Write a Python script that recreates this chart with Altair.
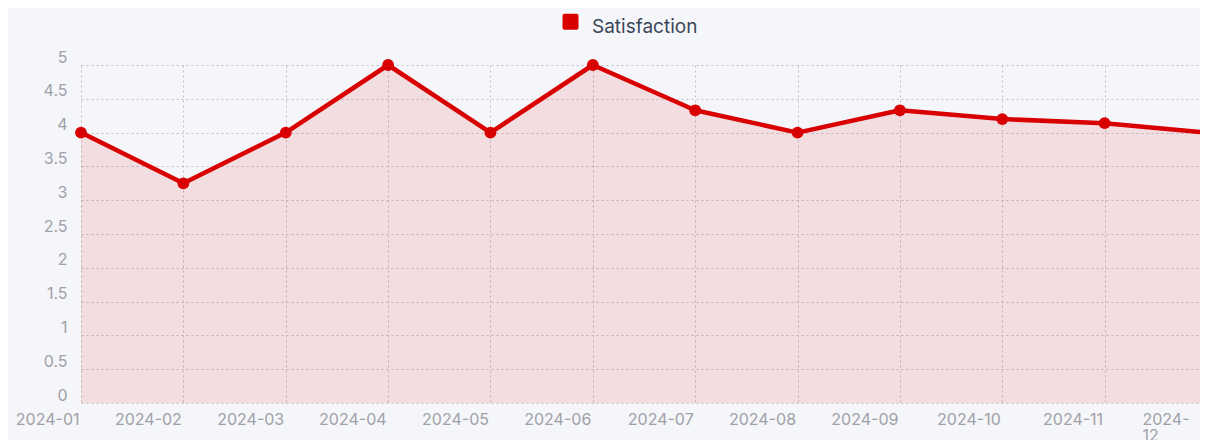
import altair as alt
import pandas as pd

# ---- data ----
months = ["2024-01", "2024-02", "2024-03", "2024-04", "2024-05", "2024-06",
          "2024-07", "2024-08", "2024-09", "2024-10", "2024-11", "2024-12"]
scores = [4.0, 3.25, 4.0, 5.0, 4.0, 5.0, 4.33, 4.0, 4.33, 4.2, 4.14, 4.0]
series_name = "Satisfaction"
y_tick_values = [0, 0.5, 1, 1.5, 2, 2.5, 3, 3.5, 4, 4.5, 5]
chart_title = "Satisfaction usagers (notes sur 5)"

df = pd.DataFrame({"month": months, "score": scores,
                   "series": [series_name] * len(months)})

RED = "#d80000"
GRID = "#c2c0c6"
LABEL = "#a0a0a8"
PANEL = "#f5f6fa"
FONT = "Inter"
LAST = "datum.value == '2024-12'"

x_enc = alt.X(
    "month:O",
    scale=alt.Scale(type="point", padding=0, range=[0, 1126]),
    axis=alt.Axis(
        title=None, domain=False, ticks=False, grid=True,
        gridDash=[2, 3], gridColor=GRID, gridWidth=1,
        labelAngle=0, labelBaseline="top", labelPadding=8,
        labelFont=FONT, labelFontSize=16, labelColor=LABEL,
        labelLineHeight=16, labelOverlap=False, labelBound=False,
        labelExpr="datum.label == '2024-12' ? ['2024-', '12'] : datum.label",
        labelAlign={"condition": {"test": LAST, "value": "left"}, "value": "right"},
        labelOffset={"condition": {"test": LAST, "value": -65}, "value": -2},
    ),
)

y_enc = alt.Y(
    "score:Q",
    scale=alt.Scale(domain=[0, 5], nice=False, zero=True),
    axis=alt.Axis(
        title=None, values=y_tick_values, format=".1~f",
        domain=False, ticks=False, grid=True,
        gridDash=[2, 3], gridColor=GRID, gridWidth=1,
        labelFont=FONT, labelFontSize=16, labelColor=LABEL,
        labelPadding=14, labelOffset=-8, labelBaseline="middle",
        labelOverlap=False,
    ),
)

base = alt.Chart(df)

area = base.mark_area(color=RED, fillOpacity=0.1).encode(x=x_enc, y=y_enc)

line = base.mark_line(color=RED, strokeWidth=4.5, strokeJoin="round",
                      strokeCap="round").encode(x=x_enc, y=y_enc)

# rounded square legend swatch, drawn slightly above the label's centre
swatch = ("M-0.75,-1.6 L0.75,-1.6 Q1,-1.6 1,-1.35 L1,0.15 Q1,0.4 0.75,0.4 "
          "L-0.75,0.4 Q-1,0.4 -1,0.15 L-1,-1.35 Q-1,-1.6 -0.75,-1.6 Z")

points = base.mark_circle(size=140, opacity=1).encode(
    x=x_enc, y=y_enc,
    color=alt.Color(
        "series:N",
        scale=alt.Scale(range=[RED]),
        legend=alt.Legend(
            title=None, orient="none", legendX=480, legendY=-48,
            direction="horizontal", symbolType=swatch,
            symbolSize=256, symbolStrokeWidth=0, symbolOpacity=1,
            labelFont=FONT, labelFontSize=19, labelColor="#3b4558",
            labelOffset=12,
        ),
    ),
)

title = alt.Chart(pd.DataFrame({"t": [chart_title]})).mark_text(
    align="left", baseline="alphabetic", font="Open Sans", fontSize=26,
    color="#000000",
).encode(text="t:N", x=alt.value(-73), y=alt.value(-64))

chart = alt.layer(area, line, points, title).properties(
    width=1119,
    height=338,
    autosize=alt.AutoSizeParams(type="none"),
    padding={"left": 73, "top": 57, "right": 0, "bottom": 45},
    background=PANEL,
).configure_view(stroke=None)

chart.save("out.html", embed_options={"renderer": "svg", "actions": False})
